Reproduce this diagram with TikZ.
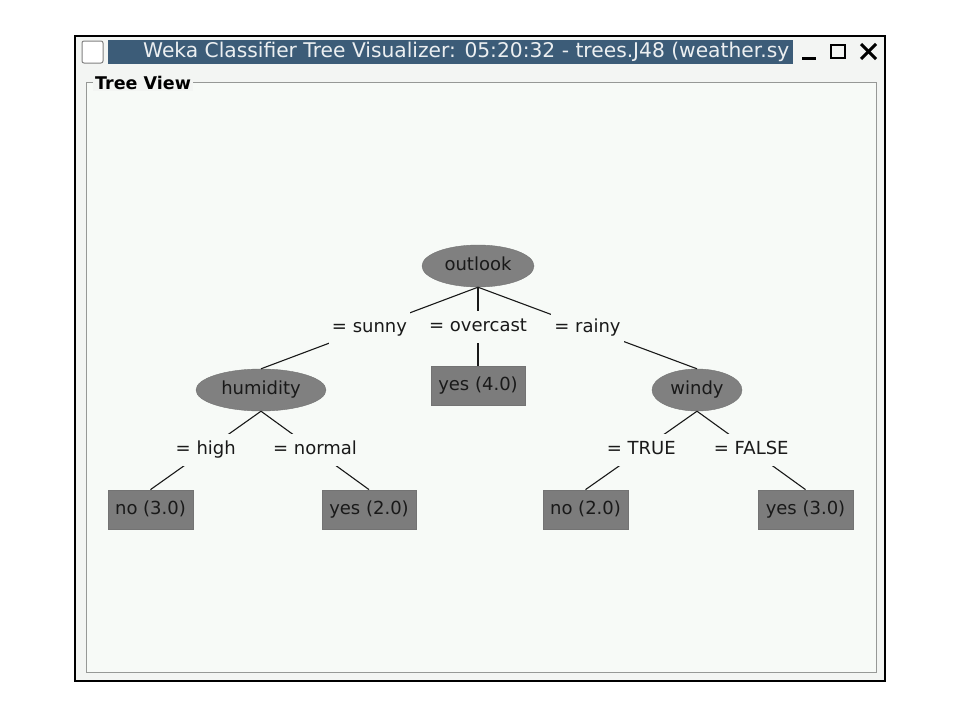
\documentclass[tikz,border=0pt]{standalone}
\usepackage{fontspec}
\usepackage{graphicx}
\setmainfont{DejaVu Sans}
\usetikzlibrary{shapes.geometric}
\definecolor{panelbg}{RGB}{247,250,247}
\definecolor{winbg}{RGB}{243,245,243}
\definecolor{titlebg}{RGB}{60,92,120}
\definecolor{nodegray}{RGB}{128,128,128}
\definecolor{boxgray}{RGB}{124,124,124}
\definecolor{framegray}{RGB}{150,152,150}
\begin{document}
\begin{tikzpicture}[x=1pt,y=-1pt,
  treefont/.style={font=\fontsize{18}{21}\selectfont, text height=13pt, text depth=4pt},
  ell/.style={ellipse, fill=nodegray, draw=nodegray!90!black, inner sep=0pt, minimum height=42pt, treefont, text=black!90},
  leafbox/.style={rectangle, fill=boxgray, draw=black!55, line width=0.8pt, inner sep=0pt, minimum height=39pt, treefont, text=black!90},
  edgeline/.style={draw=black!90, line width=1.1pt},
  lbl/.style={midway, fill=panelbg, inner xsep=3pt, inner ysep=0pt, minimum height=32pt, treefont, text=black!90}
]
\useasboundingbox (0,0) rectangle (960,720);
\fill[white] (0,0) rectangle (960,720);
% window
\draw[line width=2pt, fill=winbg] (75,36) rectangle (885,681);
\fill[titlebg] (108,40) rectangle (793,64);
\draw[gray, fill=white, rounded corners=2pt, line width=1pt] (82,41) rectangle (103,63);
\node[anchor=west, inner sep=0pt, text=white!90!titlebg] (title) at (143,52)
  {\resizebox{646pt}{!}{Weka Classifier Tree Visualizer: 05:20:32 - trees.J48 (weather.sy}};
\draw[line width=3pt] (802,58) -- (816,58);
\draw[line width=2pt] (831,45) rectangle (845,58);
\draw[line width=3pt] (861,44) -- (876,59);
\draw[line width=3pt] (876,44) -- (861,59);
% panel
\draw[framegray, fill=panelbg, line width=1pt] (86,82) rectangle (876,672);
\node[anchor=west, fill=winbg, inner xsep=2pt, inner ysep=1pt, font=\bfseries\fontsize{17.5}{20}\selectfont] (treeview) at (93,83) {Tree View};
% tree nodes
\node[ell, minimum width=112pt] (outlook) at (478,266) {outlook};
\node[ell, minimum width=130pt] (humidity) at (261,390) {humidity};
\node[ell, minimum width=90pt] (windy) at (697,390) {windy};
\node[leafbox, minimum width=94pt] (yesA) at (478,386) {yes (4.0)};
\node[leafbox, minimum width=85pt] (noA) at (150.5,509.5) {no (3.0)};
\node[leafbox, minimum width=94pt] (yesB) at (369,509.5) {yes (2.0)};
\node[leafbox, minimum width=85pt] (noB) at (585.5,509.5) {no (2.0)};
\node[leafbox, minimum width=95pt] (yesC) at (805.5,509.5) {yes (3.0)};
% edges with labels
\draw[edgeline] (outlook.south) -- (humidity.north) node[lbl] (lsunny) {= sunny};
\draw[edgeline] (outlook.south) -- (yesA.north) node[lbl] (lover) {= overcast};
\draw[edgeline] (outlook.south) -- (windy.north) node[lbl] (lrainy) {= rainy};
\draw[edgeline] (humidity.south) -- (noA.north) node[lbl] (lhigh) {= high};
\draw[edgeline] (humidity.south) -- (yesB.north) node[lbl] (lnormal) {= normal};
\draw[edgeline] (windy.south) -- (noB.north) node[lbl] (ltrue) {= TRUE};
\draw[edgeline] (windy.south) -- (yesC.north) node[lbl] (lfalse) {= FALSE};
\end{tikzpicture}
\end{document}
